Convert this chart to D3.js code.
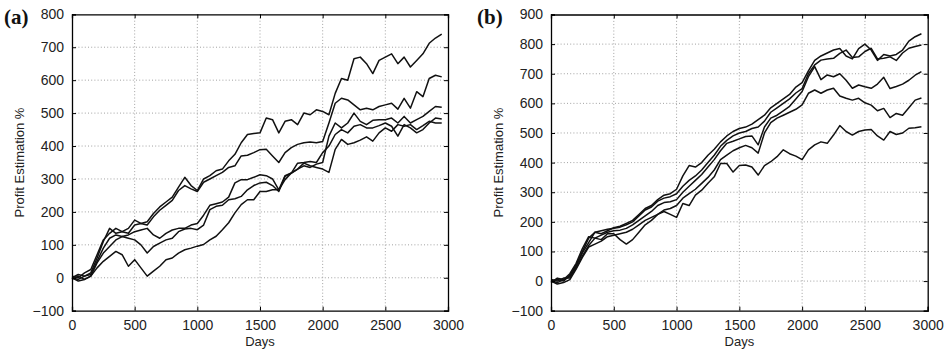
<!DOCTYPE html>
<html><head><meta charset="utf-8">
<script src="https://cdn.jsdelivr.net/npm/d3@7"></script>
<style>
body{margin:0;background:#fff}
svg{display:block}
.tick text, .lbl{font-family:"Liberation Sans",Arial,Helvetica,sans-serif;fill:#222}
.plab{font-family:"Liberation Serif","Times New Roman",serif;font-weight:bold;fill:#111}
</style>
</head><body>
<svg id="c" width="945" height="357"></svg>
<script>
// ---------------- data ----------------
const days = [0,50,100,150,200,250,300,350,400,450,500,550,600,650,700,750,800,850,900,950,
  1000,1050,1100,1150,1200,1250,1300,1350,1400,1450,1500,1550,1600,1650,1700,1750,1800,1850,1900,1950,
  2000,2050,2100,2150,2200,2250,2300,2350,2400,2450,2500,2550,2600,2650,2700,2750,2800,2850,2900,2950];
const xTicks = [0,500,1000,1500,2000,2500,3000];
const yTicksA = [-100,0,100,200,300,400,500,600,700,800];
const yTicksB = [-100,0,100,200,300,400,500,600,700,800,900];

// Panel (a) – profit estimation % per run
const a1 = [0,-5,5,15,60,110,150,135,140,150,175,165,170,195,215,230,245,275,305,280,
  265,300,310,325,330,355,375,410,435,438,440,485,480,440,475,480,465,500,495,510,
  505,495,560,605,600,665,670,650,620,660,670,680,650,670,640,660,680,712,728,740];
const a2 = [5,0,15,25,70,115,135,150,140,135,160,165,160,185,205,220,235,265,280,270,
  262,290,300,310,320,335,340,370,372,380,389,390,370,350,380,395,405,410,412,410,
  414,470,530,545,540,525,510,515,510,520,525,530,512,545,515,565,550,605,615,610];
const a3 = [0,10,5,10,50,90,120,130,125,130,140,145,150,130,120,135,145,150,150,160,
  165,190,220,225,230,245,288,298,298,305,313,310,300,267,310,318,330,340,335,345,
  350,430,470,455,470,500,475,465,478,480,480,485,470,490,470,480,490,505,520,518];
const a4 = [-5,5,-5,5,45,75,95,115,125,120,115,100,75,95,105,115,120,140,148,150,
  146,160,207,217,220,237,240,247,267,280,288,290,280,262,308,318,348,350,353,350,
  380,400,435,450,440,460,465,455,455,462,470,460,430,465,455,440,450,470,485,482];
const a5 = [0,-10,-5,5,30,50,65,80,70,35,55,30,5,20,35,55,60,75,85,90,
  96,101,115,126,146,167,197,222,237,237,262,262,267,267,298,318,330,348,340,335,
  330,320,390,420,405,410,418,428,415,440,455,445,465,460,465,450,462,475,470,470];

// Panel (b)
const b1 = [0,5,0,20,55,100,145,165,160,170,180,185,195,205,225,245,255,275,290,295,
  310,355,390,385,400,425,445,470,490,505,515,520,530,545,560,585,600,615,630,655,
  670,710,745,760,770,780,785,760,750,785,800,780,745,765,760,765,780,810,825,835];
const b2 = [0,-5,5,15,50,95,130,165,170,175,178,182,190,200,220,240,250,270,280,285,
  295,320,340,355,375,400,425,455,475,490,500,505,515,520,540,570,585,600,615,635,
  650,700,730,746,750,752,769,780,755,757,775,786,750,752,757,745,770,786,792,797];
const b3 = [5,0,10,10,45,85,120,145,155,165,170,172,178,190,205,220,235,255,265,268,
  275,300,320,340,360,385,410,440,465,472,480,488,490,460,520,550,560,575,590,615,
  640,690,724,680,696,690,700,678,651,662,656,651,665,688,650,657,665,678,695,707];
const b4 = [-5,10,5,25,60,110,150,145,140,160,160,140,125,140,165,190,205,225,240,245,
  255,280,295,310,330,350,375,410,425,440,450,458,450,432,500,535,550,560,570,580,
  595,634,645,634,645,651,625,617,611,617,602,594,575,583,552,566,560,585,611,618];
const b5 = [0,-10,-5,5,40,80,115,125,135,150,155,160,165,175,190,205,215,225,235,225,
  215,262,255,290,307,330,352,397,397,368,390,392,385,358,390,403,420,443,430,422,
  410,443,460,470,465,493,525,505,493,505,510,512,490,476,505,495,500,516,518,521];

const seriesA = [a1,a2,a3,a4,a5];
const seriesB = [b1,b2,b3,b4,b5];

// ---------------- drawing ----------------
const svg = d3.select("#c");
const fmt = d => d < 0 ? "\u2212" + Math.abs(d) : String(d);

function panel(cfg){
  const x = d3.scaleLinear().domain([0,3000]).range([cfg.x0, cfg.x1]);
  const y = d3.scaleLinear().domain(cfg.yDomain).range([cfg.yBot, cfg.yTop]);
  const g = svg.append("g");

  // grid
  g.append("g").selectAll("line").data(xTicks.slice(1,-1)).join("line")
    .attr("x1", d=>x(d)).attr("x2", d=>x(d)).attr("y1", cfg.yTop).attr("y2", cfg.yBot)
    .attr("stroke","#8a8a8a").attr("stroke-width",0.8).attr("stroke-dasharray","1,2.2");
  g.append("g").selectAll("line").data(cfg.yTicks.slice(1,-1)).join("line")
    .attr("x1", cfg.x0).attr("x2", cfg.x1).attr("y1", d=>y(d)).attr("y2", d=>y(d))
    .attr("stroke","#8a8a8a").attr("stroke-width",0.8).attr("stroke-dasharray","1,2.2");

  // data lines
  const line = d3.line().x((d,i)=>x(days[i])).y(d=>y(d));
  g.append("g").selectAll("path").data(cfg.series).join("path")
    .attr("d", line).attr("fill","none").attr("stroke","#111")
    .attr("stroke-width",1.5).attr("stroke-linejoin","round");

  // axes (inward ticks, box)
  const ax = g.append("g").attr("transform",`translate(0,${cfg.yBot})`)
    .call(d3.axisBottom(x).tickValues(xTicks).tickSize(-4).tickPadding(9).tickFormat(fmt));
  const axT = g.append("g").attr("transform",`translate(0,${cfg.yTop})`)
    .call(d3.axisTop(x).tickValues(xTicks).tickSize(-4).tickFormat(""));
  const ay = g.append("g").attr("transform",`translate(${cfg.x0},0)`)
    .call(d3.axisLeft(y).tickValues(cfg.yTicks).tickSize(-4).tickPadding(8).tickFormat(fmt));
  const ayR = g.append("g").attr("transform",`translate(${cfg.x1},0)`)
    .call(d3.axisRight(y).tickValues(cfg.yTicks).tickSize(-4).tickFormat(""));
  [ax,axT,ay,ayR].forEach(a=>{
    a.select(".domain").attr("stroke","#000").attr("stroke-width",1.3);
    a.selectAll(".tick line").attr("stroke","#000").attr("stroke-width",1);
    a.selectAll(".tick text").style("font-size","14px").attr("fill","#222");
  });
  ax.selectAll(".tick text").attr("dy","0.71em");

  // axis labels
  g.append("text").attr("class","lbl").attr("x",(cfg.x0+cfg.x1)/2).attr("y",346)
    .attr("text-anchor","middle").style("font-size","13px").text("Days");
  g.append("text").attr("class","lbl")
    .attr("transform",`translate(${cfg.x0-48},${(cfg.yTop+cfg.yBot)/2}) rotate(-90)`)
    .attr("text-anchor","middle").style("font-size","13px").text("Profit Estimation %");
  // panel label
  g.append("text").attr("class","plab").attr("x",cfg.px).attr("y",24)
    .style("font-size","21px").text(cfg.label);
}

panel({x0:72, x1:448, yTop:14.3, yBot:310.7, yDomain:[-100,800], yTicks:yTicksA, series:seriesA, label:"(a)", px:4});
panel({x0:551, x1:927.7, yTop:14.5, yBot:310.7, yDomain:[-100,900], yTicks:yTicksB, series:seriesB, label:"(b)", px:477});
</script>
</body></html>
